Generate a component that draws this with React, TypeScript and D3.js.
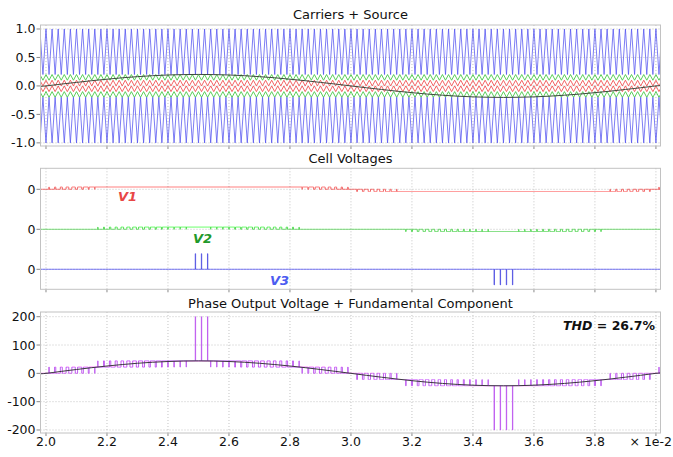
import React from "react";
import * as d3 from "d3";

const width = 673;
const height = 457;

// time axis (units of 1e-2 s)
const xTicks = [2.0, 2.2, 2.4, 2.6, 2.8, 3.0, 3.2, 3.4, 3.6, 3.8, 4.0];
const carrierYTicks = [1.0, 0.5, 0.0, -0.5, -1.0];
const outputYTicks = [200, 100, 0, -100, -200];

// reference (source) and fundamental
const sampleTimes = [
  1.98, 2.0, 2.05, 2.1, 2.15, 2.2, 2.25, 2.3, 2.35, 2.4, 2.45, 2.5, 2.55, 2.6,
  2.65, 2.7, 2.75, 2.8, 2.85, 2.9, 2.95, 3.0, 3.05, 3.1, 3.15, 3.2, 3.25, 3.3,
  3.35, 3.4, 3.45, 3.5, 3.55, 3.6, 3.65, 3.7, 3.75, 3.8, 3.85, 3.9, 3.95, 4.0,
  4.02,
];
const sourceValues = [
  -0.006, 0, 0.032, 0.062, 0.092, 0.118, 0.143, 0.163, 0.18, 0.192, 0.199,
  0.202, 0.199, 0.192, 0.18, 0.163, 0.143, 0.118, 0.092, 0.062, 0.032, 0,
  -0.032, -0.062, -0.092, -0.118, -0.143, -0.163, -0.18, -0.192, -0.199,
  -0.202, -0.199, -0.192, -0.18, -0.163, -0.143, -0.118, -0.092, -0.062,
  -0.032, 0, 0.006,
];
const fundamentalValues = [
  -1.4, 0, 6.9, 13.6, 20.0, 25.9, 31.1, 35.6, 39.2, 41.8, 43.5, 44.0, 43.5,
  41.8, 39.2, 35.6, 31.1, 25.9, 20.0, 13.6, 6.9, 0, -6.9, -13.6, -20.0, -25.9,
  -31.1, -35.6, -39.2, -41.8, -43.5, -44.0, -43.5, -41.8, -39.2, -35.6, -31.1,
  -25.9, -20.0, -13.6, -6.9, 0, 1.4,
];

// level-shifted triangular carriers
const carrierPeriod = 0.02;
const carrierNames = ["blueUp", "greenUp", "redUp", "redLo", "greenLo", "blueLo"];
const carrierLows = [0.2, 0.1, 0.0, -0.1, -0.2, -1.0];
const carrierHighs = [1.0, 0.2, 0.1, 0.0, -0.1, -0.2];
const carrierInverted = [false, false, false, false, false, true];

// cell dc voltages and the narrow V3 pulses seen in the picture
const cellNames = ["V1", "V2", "V3"];
const cellDc = [22, 22, 156];
const v3PulsesUp = [2.49, 2.51, 2.53];
const v3PulsesDown = [3.47, 3.49, 3.51, 3.53];
const thdText = "26.7%";

const colors = {
  blue: "#5252f0",
  red: "#f05454",
  green: "#48c848",
  source: "#3e4a3e",
  v1: "#f06868",
  v2: "#5ada5a",
  v3: "#5c5ce4",
  output: "#c060f0",
  fund: "#3c3840",
  grid: "#c4c4c4",
  frame: "#c2c2c2",
};
const carrierColors = [colors.blue, colors.green, colors.red, colors.red, colors.green, colors.blue];
const carrierWidths = [0.75, 0.9, 0.9, 0.9, 0.9, 0.75];
const cellLineColors = [colors.v1, colors.v2, colors.v3];
const cellLabelColors = ["#e84646", "#22992a", "#4c5cf0"];
const font = "'DejaVu Sans', Verdana, sans-serif";

const plotLeft = 40.5;
const plotRight = 660.5;
const panels = {
  top: { y0: 25, y1: 146 },
  mid: { y0: 168.3, y1: 289.3 },
  bot: { y0: 312, y1: 433 },
};

const x = d3.scaleLinear().domain([1.982, 4.015]).range([plotLeft, plotRight]);
const yCarrier = d3.scaleLinear().domain([-1.055, 1.07]).range([panels.top.y1, panels.top.y0]);
const yCell = d3.scaleLinear().domain([-600, 610]).range([panels.mid.y1, panels.mid.y0]);
const yOut = d3.scaleLinear().domain([-210.6, 216.6]).range([panels.bot.y1, panels.bot.y0]);
const rowOffsets = [400, 0, -400];

const tri = (t: number) => {
  const f = t / carrierPeriod - Math.floor(t / carrierPeriod);
  return Math.abs(2 * f - 1);
};
const carrierAt = (i: number, t: number) => {
  const k = carrierInverted[i] ? 1 - tri(t) : tri(t);
  return carrierLows[i] + (carrierHighs[i] - carrierLows[i]) * k;
};

const bis = d3.bisector((d: number) => d).right;
const sourceAt = (t: number) => {
  const i = Math.min(Math.max(bis(sampleTimes, t), 1), sampleTimes.length - 1);
  const t0 = sampleTimes[i - 1];
  const t1 = sampleTimes[i];
  const u = (t - t0) / (t1 - t0);
  return sourceValues[i - 1] + (sourceValues[i] - sourceValues[i - 1]) * u;
};

// cell states from the comparison of the source with each pair of carriers
const compare = (s: number, up: number, lo: number) => (s > up ? 1 : s < lo ? -1 : 0);
const simTimes = d3.range(1.982, 4.0151, 0.0001);
const cellSeries = simTimes.map((t) => {
  const s = sourceAt(t);
  const v1 = cellDc[0] * compare(s, carrierAt(2, t), carrierAt(3, t));
  const v2 = cellDc[1] * compare(s, carrierAt(1, t), carrierAt(4, t));
  const hit = (p: number) => t >= p - 0.0005 && t < p + 0.0005;
  const v3 = cellDc[2] * (v3PulsesUp.some(hit) ? 1 : v3PulsesDown.some(hit) ? -1 : 0);
  return { t, v: [v1, v2, v3] };
});

const carrierTimes = d3.range(Math.floor(1.98 / 0.01), Math.ceil(4.02 / 0.01) + 1).map((k) => k * 0.01);

const Panel = ({ y, yTicks, fmt, id, title, titleY, children }: any) => {
  const [y0, y1] = [y.range()[1], y.range()[0]];
  return (
    <g>
      <defs>
        <clipPath id={id}>
          <rect x={plotLeft} y={y0} width={plotRight - plotLeft} height={y1 - y0} />
        </clipPath>
      </defs>
      <text x={(plotLeft + plotRight) / 2} y={titleY} textAnchor="middle" dominantBaseline="central" fontSize={13} fontFamily={font} fill="#111">
        {title}
      </text>
      {xTicks.map((t) => (
        <line key={"gx" + t} x1={x(t)} x2={x(t)} y1={y0} y2={y1} stroke={colors.grid} strokeDasharray="1,2" />
      ))}
      {yTicks.map((t: number, i: number) => (
        <g key={"gy" + i}>
          <line x1={plotLeft} x2={plotRight} y1={y(t)} y2={y(t)} stroke={colors.grid} strokeDasharray="1,2" />
          <line x1={plotLeft - 4} x2={plotLeft} y1={y(t)} y2={y(t)} stroke="#888" />
          <text x={plotLeft - 5} y={y(t)} textAnchor="end" dominantBaseline="central" fontSize={12.5} fontFamily={font} fill="#111">
            {fmt(t, i)}
          </text>
        </g>
      ))}
      {xTicks.map((t) => (
        <line key={"tx" + t} x1={x(t)} x2={x(t)} y1={y1} y2={y1 + 3} stroke="#888" />
      ))}
      <g clipPath={`url(#${id})`}>{children}</g>
      <rect x={plotLeft} y={y0} width={plotRight - plotLeft} height={y1 - y0} fill="none" stroke={colors.frame} />
    </g>
  );
};

export default function App() {
  const sourceLine = d3
    .line<number>()
    .x((_, i) => x(sampleTimes[i]))
    .y((d) => yCarrier(d))
    .curve(d3.curveNatural);
  const fundLine = d3
    .line<number>()
    .x((_, i) => x(sampleTimes[i]))
    .y((d) => yOut(d))
    .curve(d3.curveNatural);
  const carrierLine = (i: number) =>
    d3
      .line<number>()
      .x((t) => x(t))
      .y((t) => yCarrier(carrierAt(i, t)))(carrierTimes);
  const cellLine = (c: number) =>
    d3
      .line<any>()
      .x((d) => x(d.t))
      .y((d) => yCell(rowOffsets[c] + d.v[c]))
      .curve(d3.curveStepAfter)(cellSeries);
  const outLine = d3
    .line<any>()
    .x((d) => x(d.t))
    .y((d) => yOut(d.v[0] + d.v[1] + d.v[2]))
    .curve(d3.curveStepAfter)(cellSeries);

  return (
    <svg width={width} height={height} style={{ position: "absolute", left: 0, top: 0, background: "#fff" }}>
      <rect width={width} height={height} fill="#fff" />
      <Panel y={yCarrier} yTicks={carrierYTicks} fmt={(t: number) => d3.format(".1f")(t).replace("−", "-")} id="clipTop" title="Carriers + Source" titleY={14}>
        {carrierNames.map((n, i) => (
          <path key={n} d={carrierLine(i) || ""} fill="none" stroke={carrierColors[i]} strokeWidth={carrierWidths[i]} />
        ))}
        <path d={sourceLine(sourceValues) || ""} fill="none" stroke={colors.source} strokeWidth={1} />
      </Panel>
      <Panel y={yCell} yTicks={rowOffsets} fmt={() => "0"} id="clipMid" title="Cell Voltages" titleY={158}>
        {cellNames.map((n, c) => (
          <path key={n} d={cellLine(c) || ""} fill="none" stroke={cellLineColors[c]} strokeWidth={1} />
        ))}
      </Panel>
      <Panel y={yOut} yTicks={outputYTicks} fmt={(t: number) => String(t)} id="clipBot" title="Phase Output Voltage + Fundamental Component" titleY={303}>
        <path d={outLine || ""} fill="none" stroke={colors.output} strokeWidth={1} />
        <path d={fundLine(fundamentalValues) || ""} fill="none" stroke={colors.fund} strokeWidth={1} />
      </Panel>
      {cellNames.map((n, c) => (
        <text
          key={"lab" + n}
          x={[118, 193, 270][c]}
          y={[196, 238, 280][c]}
          dominantBaseline="central"
          fontSize={13}
          fontWeight="bold"
          fontStyle="italic"
          fontFamily={font}
          fill={cellLabelColors[c]}
        >
          {n}
        </text>
      ))}
      <text x={655} y={325} textAnchor="end" dominantBaseline="central" fontSize={12.5} fontWeight="bold" fontFamily={font} fill="#111">
        <tspan fontStyle="italic">THD</tspan>
        {" = " + thdText}
      </text>
      {xTicks.slice(0, -1).map((t) => (
        <text key={"xl" + t} x={x(t)} y={441} textAnchor="middle" dominantBaseline="central" fontSize={12.5} fontFamily={font} fill="#111">
          {t.toFixed(1)}
        </text>
      ))}
      <text x={672} y={441} textAnchor="end" dominantBaseline="central" fontSize={12.5} fontFamily={font} fill="#111">
        × 1e-2
      </text>
    </svg>
  );
}
